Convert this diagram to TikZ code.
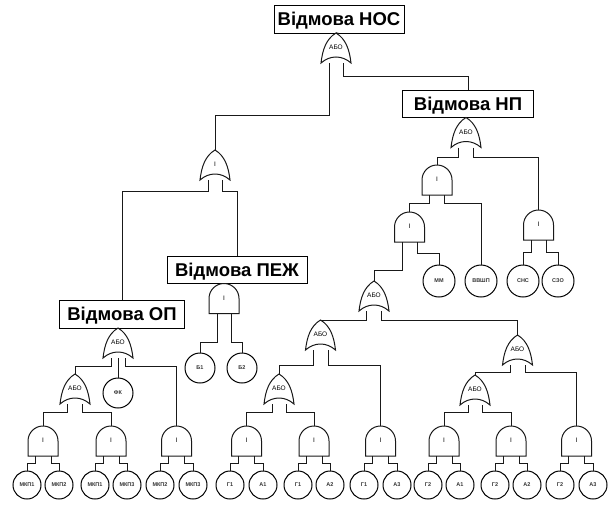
\documentclass[tikz,border=0pt]{standalone}
\usepackage{fontspec}
\setmainfont{Liberation Sans}
\begin{document}
\begin{tikzpicture}[x=1pt,y=-1pt,
  line/.style={line width=1pt, draw=black!90},
  box/.style={draw, line width=1pt, inner sep=0pt, font=\bfseries\fontsize{18.5}{20}\selectfont, text height=13pt, text depth=0pt},
  gatebase/.style={minimum width=30pt, minimum height=30pt, inner sep=0pt, font=\fontsize{6.5}{7}\selectfont},
  orgate/.style={gatebase, append after command={\pgfextra{\draw[line, shift={(\tikzlastnode.center)}]
      (-15,15) .. controls (-13.5,2) and (-10,-9) .. (0,-15) .. controls (10,-9) and (13.5,2) .. (15,15)
      .. controls (6,7) and (-6,7) .. cycle;}}},
  andgate/.style={gatebase, append after command={\pgfextra{\draw[line, shift={(\tikzlastnode.center)}]
      (-15,15) -- (-15,0) arc[start angle=180, end angle=0, radius=15pt] -- (15,15) -- cycle;}}},
  event/.style={circle, draw, line width=1pt, inner sep=0pt, font=\bfseries\fontsize{5.5}{7}\selectfont, text=black!80},
  leaf/.style={event, minimum size=28pt},
  mid/.style={event, minimum size=30pt},
  upper/.style={event, minimum size=32pt},
]
\useasboundingbox (0,0) rectangle (609,506);

% boxes
\node[box, minimum width=130pt, minimum height=28pt] (bNOS) at (339,19) {Відмова НОС};
\node[box, minimum width=131pt, minimum height=27pt] (bNP) at (468,104) {Відмова НП};
\node[box, minimum width=140pt, minimum height=27pt] (bPEZ) at (237,270) {Відмова ПЕЖ};
\node[box, minimum width=125pt, minimum height=28pt] (bOP) at (122,314) {Відмова ОП};

% gates
\node[orgate] (gNOS) at (336,48) {\raisebox{1pt}{АБО}};
\node[orgate] (gI) at (215,165) {\raisebox{1pt}{І}};
\node[andgate] (gPEZ) at (224,298.5) {\raisebox{1pt}{І}};
\node[orgate] (gOP) at (118,343) {\raisebox{1pt}{АБО}};
\node[orgate] (gA) at (75,389) {\raisebox{1pt}{АБО}};
\node[orgate] (gNP) at (466,132.5) {\raisebox{1pt}{АБО}};
\node[andgate] (gNP1) at (437,180) {\raisebox{1pt}{І}};
\node[andgate] (gNP3) at (409.5,227) {\raisebox{1pt}{І}};
\node[andgate] (gNP2) at (538.5,225) {\raisebox{1pt}{І}};
\node[orgate] (gM) at (374,296) {\raisebox{1pt}{АБО}};
\node[orgate] (gML) at (320.5,335) {\raisebox{1pt}{АБО}};
\node[orgate] (gMR) at (517.5,350) {\raisebox{1pt}{АБО}};
\node[orgate] (gL3) at (279,389) {\raisebox{1pt}{АБО}};
\node[orgate] (gR3) at (475,390) {\raisebox{1pt}{АБО}};
\foreach \i/\x in {1/43,2/111,3/176.5,4/246.5,5/314,6/380.5,7/444,8/511,9/576.5}
  \node[andgate] (a\i) at (\x,441) {\raisebox{1pt}{І}};

% events
\node[mid] (b1) at (200,368) {Б1};
\node[mid] (b2) at (242,368) {Б2};
\node[mid] (fk) at (118,393) {ФК};
\node[upper] (mm) at (439,281) {ММ};
\node[upper] (vv) at (481,281) {ВВШП};
\node[upper] (sns) at (523,281) {СНС};
\node[upper] (szo) at (558,281) {СЗО};
\foreach \i/\x/\t in {1/27/МКП1,2/59/МКП2,3/95/МКП1,4/127/МКП3,5/160/МКП2,6/193/МКП3,
  7/230/Г1,8/263/А1,9/298/Г1,10/330/А2,11/364/Г1,12/397/А3,
  13/428/Г2,14/460/А1,15/495/Г2,16/527/А2,17/560/Г2,18/593/А3}
  \node[leaf] (c\i) at (\x,485) {\t};

% connectors
\draw[line] (bNOS.south) -- (gNOS.north);
\draw[line] ([xshift=-7pt]gNOS.south) -- ++(0,52) -| (gI.north);
\draw[line] ([xshift=7pt]gNOS.south) -- ++(0,13) -| (bNP.north);
\draw[line] ([xshift=-7pt]gI.south) -- ++(0,11) -| (bOP.north);
\draw[line] ([xshift=7pt]gI.south) -- ++(0,11) -| (bPEZ.north);
\draw[line] ([xshift=-7pt]gPEZ.south) -- ++(0,28.5) -| (b1.north);
\draw[line] ([xshift=7pt]gPEZ.south) -- ++(0,28.5) -| (b2.north);
\draw[line] ([xshift=-7pt]gOP.south) -- ++(0,8) -| (gA.north);
\draw[line] (gOP.south) -- (fk.north);
\draw[line] ([xshift=7pt]gOP.south) -- ++(0,8) -| (a3.north);
\draw[line] ([xshift=-7.5pt]gA.south) -- ++(0,8) -| (a1.north);
\draw[line] ([xshift=7.5pt]gA.south) -- ++(0,8) -| (a2.north);
\draw[line] ([xshift=-7.5pt]gNP.south) -- ++(0,9.5) -| (gNP1.north);
\draw[line] ([xshift=7.5pt]gNP.south) -- ++(0,9.5) -| (gNP2.north);
\draw[line] ([xshift=-7.5pt]gNP1.south) -- ++(0,8) -| (gNP3.north);
\draw[line] ([xshift=7.5pt]gNP1.south) -- ++(0,8) -| (vv.north);
\draw[line] ([xshift=-7.5pt]gNP3.south) -- ++(0,28) -| (gM.north);
\draw[line] ([xshift=7.5pt]gNP3.south) -- ++(0,11) -| (mm.north);
\draw[line] ([xshift=-7.5pt]gNP2.south) -- ++(0,12) -| (sns.north);
\draw[line] ([xshift=7.5pt]gNP2.south) -- ++(0,12) -| (szo.north);
\draw[line] ([xshift=-7.5pt]gM.south) -- ++(0,9) -| (gML.north);
\draw[line] ([xshift=7.5pt]gM.south) -- ++(0,9) -| (gMR.north);
\draw[line] ([xshift=-7.5pt]gML.south) -- ++(0,15) -| (gL3.north);
\draw[line] ([xshift=7.5pt]gML.south) -- ++(0,15) -| (a6.north);
\draw[line] ([xshift=-7.5pt]gMR.south) -- ++(0,7) -| (gR3.north);
\draw[line] ([xshift=7.5pt]gMR.south) -- ++(0,7) -| (a9.north);
\draw[line] ([xshift=-7pt]gL3.south) -- ++(0,8) -| (a4.north);
\draw[line] ([xshift=7pt]gL3.south) -- ++(0,8) -| (a5.north);
\draw[line] ([xshift=-7pt]gR3.south) -- ++(0,7) -| (a7.north);
\draw[line] ([xshift=7pt]gR3.south) -- ++(0,7) -| (a8.north);
\foreach \i/\l/\r in {1/1/2,2/3/4,3/5/6,4/7/8,5/9/10,6/11/12,7/13/14,8/15/16,9/17/18} {
  \draw[line] ([xshift=-8pt]a\i.south) -- ++(0,7) -| (c\l.north);
  \draw[line] ([xshift=8pt]a\i.south) -- ++(0,7) -| (c\r.north);
}
\end{tikzpicture}
\end{document}
